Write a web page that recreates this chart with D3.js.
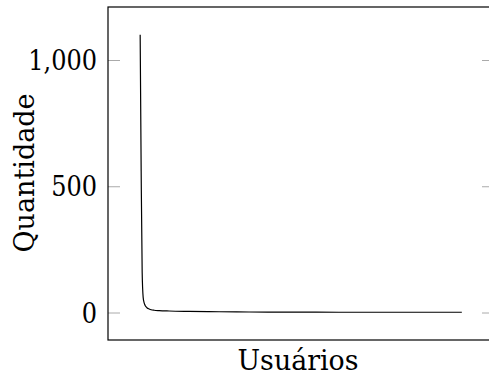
<!DOCTYPE html>
<html>
<head>
<meta charset="utf-8">
<script src="https://cdn.jsdelivr.net/npm/d3@7"></script>
<style>
  html, body { margin: 0; padding: 0; background: #fff; }
  svg { display: block; }
</style>
</head>
<body>
<svg id="chart" width="489" height="378"></svg>
<script>
// Users ranked by how many items each one has
const userRank = [1, 2, 3, 4, 5, 6, 7, 8, 10, 12, 15, 20, 30, 50, 80, 110, 150, 200, 250, 323];
const quantity = [1100, 560, 160, 60, 38, 28, 22, 18, 14, 11, 9, 7.5, 6, 4.5, 3, 2, 1.5, 1, 1, 1];
const yTickValues = [0, 500, 1000];
const yTickLabels = ["0", "500", "1,000"];
const xLabel = "Usuários";
const yLabel = "Quantidade";

const serif = "'DejaVu Serif', serif";
const svg = d3.select("#chart");
const box = { left: 108, right: 494, top: 7, bottom: 340 };

// Axis limits padded by 10% of the data span on each side
const xMin = d3.min(userRank), xMax = d3.max(userRank);
const yMin = d3.min(quantity), yMax = d3.max(quantity);
const xPad = 0.1 * (xMax - xMin), yPad = 0.1 * (yMax - yMin);

const x = d3.scaleLinear().domain([xMin - xPad, xMax + xPad]).range([box.left, box.right]);
const y = d3.scaleLinear().domain([yMin - yPad, yMax + yPad]).range([box.bottom, box.top]);

// Tick marks on the left (pointing in) and mirrored on the right
const tickLen = 12;
const leftAxis = d3.axisLeft(y).tickValues(yTickValues)
  .tickSize(-tickLen)
  .tickFormat((d, i) => yTickLabels[i]);
const gl = svg.append("g").attr("transform", `translate(${box.left},0)`).call(leftAxis);
gl.select(".domain").remove();
gl.selectAll(".tick line").attr("stroke", "#aaa").attr("stroke-width", 1);
gl.selectAll(".tick text")
  .attr("x", 0).attr("dy", "0.36em")
  .attr("text-anchor", "end")
  .attr("transform", "translate(-11,0) scale(0.89,1)")
  .style("font-family", serif)
  .style("font-size", "27px")
  .attr("fill", "#000");

const rightAxis = d3.axisRight(y).tickValues(yTickValues).tickSize(-tickLen).tickFormat("");
const gr = svg.append("g").attr("transform", `translate(${box.right},0)`).call(rightAxis);
gr.select(".domain").remove();
gr.selectAll(".tick line").attr("stroke", "#aaa").attr("stroke-width", 1);

// Data line
const line = d3.line()
  .x((d, i) => x(userRank[i]))
  .y(d => y(d))
  .curve(d3.curveMonotoneX);
svg.append("path")
  .datum(quantity)
  .attr("fill", "none")
  .attr("stroke", "#000")
  .attr("stroke-width", 1.2)
  .attr("d", line);

// Axis frame
svg.append("rect")
  .attr("x", box.left).attr("y", box.top)
  .attr("width", box.right - box.left).attr("height", box.bottom - box.top)
  .attr("fill", "none").attr("stroke", "#000").attr("stroke-width", 1.2);

// Axis titles
svg.append("text")
  .attr("x", 298).attr("y", 370)
  .attr("text-anchor", "middle")
  .style("font-family", serif).style("font-size", "27px")
  .attr("textLength", 121).attr("lengthAdjust", "spacingAndGlyphs")
  .text(xLabel);

svg.append("text")
  .attr("transform", "translate(34,173) rotate(-90)")
  .attr("text-anchor", "middle")
  .style("font-family", serif).style("font-size", "27px")
  .attr("textLength", 159).attr("lengthAdjust", "spacingAndGlyphs")
  .text(yLabel);
</script>
</body>
</html>
